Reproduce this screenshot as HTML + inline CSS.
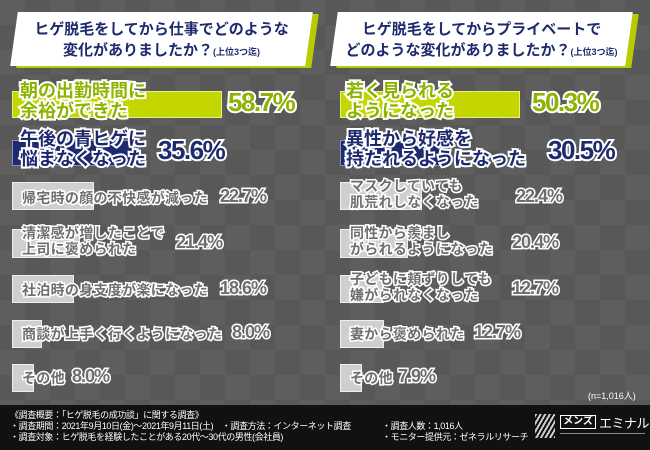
<!DOCTYPE html>
<html><head><meta charset="utf-8"><style>
*{margin:0;padding:0;box-sizing:border-box}
body{width:650px;height:450px;overflow:hidden;position:relative;font-family:"Liberation Sans","Noto Sans CJK JP",sans-serif;font-weight:bold;
background-color:#5e5e5e;
background-image:linear-gradient(45deg,rgba(0,0,0,.06) 25%,transparent 25%,transparent 75%,rgba(0,0,0,.06) 75%),linear-gradient(45deg,rgba(0,0,0,.06) 25%,transparent 25%,transparent 75%,rgba(0,0,0,.06) 75%);
background-size:50px 50px;background-position:0 0,25px 25px}
.hd{position:absolute;top:12px;width:295px;height:54px;}
.hd .sh{position:absolute;left:6px;top:2px;width:100%;height:100%;background:#b8cc00;transform:skewX(-8deg)}
.hd .bx{position:absolute;left:0;top:0;width:100%;height:100%;background:#fff;transform:skewX(-8deg)}
.hd .t{position:absolute;left:0;top:7px;width:100%;text-align:center;color:#1e2a6e;font-size:15px;line-height:21px}
.hd small{font-size:9px}
.bar{position:absolute}
.txt{position:absolute;white-space:nowrap;paint-order:stroke fill;}
.g{color:#6e6e6e;-webkit-text-stroke:3px #fff;font-size:14px;line-height:16px;letter-spacing:0.3px}
.gp{color:#6e6e6e;-webkit-text-stroke:3px #fff;font-size:18px;letter-spacing:-1px}
.lime{color:#8cb400;-webkit-text-stroke:4px #fff;font-size:18px;line-height:20px}
.navy{color:#1e2a6e;-webkit-text-stroke:4px #fff;font-size:18px;line-height:20px}
.pc{font-size:26px;letter-spacing:-1.5px;line-height:30px}
.foot{position:absolute;left:0;top:405px;width:650px;height:45px;background:#111;color:#fff;font-size:9px;font-weight:normal;line-height:11px;padding:5px 0 0 10px;letter-spacing:-0.4px}
</style></head><body>
<div class="hd" style="left:14px"><div class="sh"></div><div class="bx"></div><div class="t">ヒゲ脱毛をしてから仕事でどのような<br>変化がありましたか？<small>(上位3つ迄)</small></div></div>
<div class="hd" style="left:334px"><div class="sh"></div><div class="bx"></div><div class="t">ヒゲ脱毛をしてからプライベートで<br>どのような変化がありましたか？<small>(上位3つ迄)</small></div></div>

<!-- left -->
<div class="bar" style="left:12px;top:91px;width:210px;height:27px;background:#c4d600;border:1px solid #e8f080"></div>
<div class="txt lime" style="left:20px;top:81px">朝の出勤時間に<br>余裕ができた</div>
<div class="txt lime pc" style="left:228px;top:87px">58.7%</div>

<div class="bar" style="left:12px;top:140px;width:124px;height:26px;background:#1e2a6e;border:1px solid #8890c0"></div>
<div class="txt navy" style="left:20px;top:129px">午後の青ヒゲに<br>悩まなくなった</div>
<div class="txt navy pc" style="left:158px;top:135px">35.6%</div>

<div class="bar" style="left:12px;top:182px;width:82px;height:28px;background:#cfcfcf;border:1px solid #eee"></div>
<div class="txt g" style="left:22px;top:190px">帰宅時の顔の不快感が減った</div>
<div class="txt gp" style="left:220px;top:186px">22.7%</div>

<div class="bar" style="left:12px;top:229px;width:68px;height:29px;background:#cfcfcf;border:1px solid #eee"></div>
<div class="txt g" style="left:22px;top:225px">清潔感が増したことで<br>上司に褒められた</div>
<div class="txt gp" style="left:176px;top:232px">21.4%</div>

<div class="bar" style="left:12px;top:275px;width:62px;height:28px;background:#cfcfcf;border:1px solid #eee"></div>
<div class="txt g" style="left:22px;top:282px">社泊時の身支度が楽になった</div>
<div class="txt gp" style="left:220px;top:278px">18.6%</div>

<div class="bar" style="left:12px;top:320px;width:30px;height:28px;background:#cfcfcf;border:1px solid #eee"></div>
<div class="txt g" style="left:22px;top:326px">商談が上手く行くようになった</div>
<div class="txt gp" style="left:232px;top:322px">8.0%</div>

<div class="bar" style="left:12px;top:364px;width:22px;height:28px;background:#cfcfcf;border:1px solid #eee"></div>
<div class="txt g" style="left:22px;top:370px">その他</div>
<div class="txt gp" style="left:72px;top:366px">8.0%</div>

<!-- right -->
<div class="bar" style="left:340px;top:91px;width:180px;height:27px;background:#c4d600;border:1px solid #e8f080"></div>
<div class="txt lime" style="left:346px;top:81px">若く見られる<br>ようになった</div>
<div class="txt lime pc" style="left:532px;top:87px">50.3%</div>

<div class="bar" style="left:340px;top:140px;width:108px;height:26px;background:#1e2a6e;border:1px solid #8890c0"></div>
<div class="txt navy" style="left:346px;top:129px">異性から好感を<br>持たれるようになった</div>
<div class="txt navy pc" style="left:548px;top:135px">30.5%</div>

<div class="bar" style="left:340px;top:182px;width:82px;height:28px;background:#cfcfcf;border:1px solid #eee"></div>
<div class="txt g" style="left:350px;top:178px">マスクしていても<br>肌荒れしなくなった</div>
<div class="txt gp" style="left:516px;top:186px">22.4%</div>

<div class="bar" style="left:340px;top:229px;width:68px;height:29px;background:#cfcfcf;border:1px solid #eee"></div>
<div class="txt g" style="left:350px;top:225px">同性から羨まし<br>がられるようになった</div>
<div class="txt gp" style="left:512px;top:232px">20.4%</div>

<div class="bar" style="left:340px;top:275px;width:44px;height:28px;background:#cfcfcf;border:1px solid #eee"></div>
<div class="txt g" style="left:350px;top:271px">子どもに頬ずりしても<br>嫌がられなくなった</div>
<div class="txt gp" style="left:512px;top:278px">12.7%</div>

<div class="bar" style="left:340px;top:320px;width:44px;height:28px;background:#cfcfcf;border:1px solid #eee"></div>
<div class="txt g" style="left:350px;top:326px">妻から褒められた</div>
<div class="txt gp" style="left:474px;top:322px">12.7%</div>

<div class="bar" style="left:340px;top:364px;width:22px;height:28px;background:#cfcfcf;border:1px solid #eee"></div>
<div class="txt g" style="left:350px;top:370px">その他</div>
<div class="txt gp" style="left:398px;top:366px">7.9%</div>

<div class="txt" style="left:588px;top:389px;color:#fff;font-size:9px;font-weight:normal">(n=1,016人)</div>

<div class="foot">《調査概要：「ヒゲ脱毛の成功談」に関する調査》<br>
・調査期間：2021年9月10日(金)〜2021年9月11日(土)　・調査方法：インターネット調査<span style="position:absolute;left:382px">・調査人数：1,016人</span><br>
・調査対象：ヒゲ脱毛を経験したことがある20代〜30代の男性(会社員)<span style="position:absolute;left:382px">・モニター提供元：ゼネラルリサーチ</span></div>
<div style="position:absolute;left:535px;top:414px;width:20px;height:24px;background:repeating-linear-gradient(120deg,#ccc 0 2px,transparent 2px 4px)"></div>
<div style="position:absolute;left:560px;top:415px;width:36px;height:14px;border:1px solid #fff;color:#fff;font-size:10px;line-height:12px;text-align:center;white-space:nowrap">メンズ</div>
<div style="position:absolute;left:599px;top:413px;color:#fff;font-size:13px;font-weight:normal;white-space:nowrap;letter-spacing:-0.5px">エミナル</div>
<div style="position:absolute;left:560px;top:433px;width:85px;height:1px;background:#888"></div>
</body></html>
